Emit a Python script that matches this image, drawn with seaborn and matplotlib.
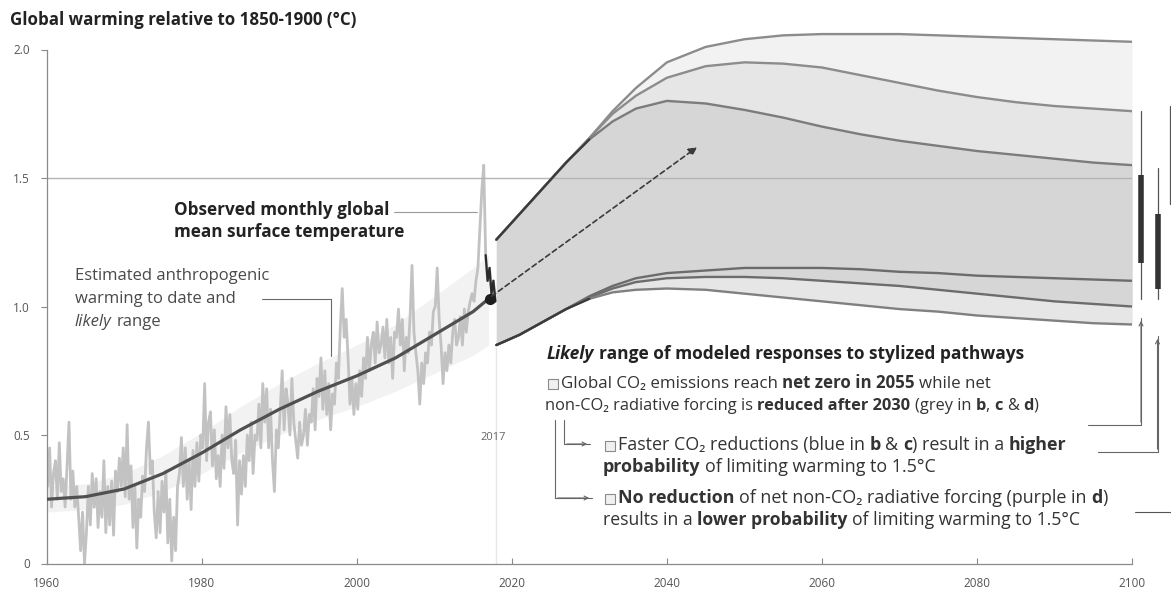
import numpy as np
import pandas as pd
import matplotlib
matplotlib.use("Agg")
import matplotlib.pyplot as plt
import seaborn as sns
from matplotlib.patches import Rectangle, FancyArrowPatch
from matplotlib.lines import Line2D

# ---------------- data ----------------
obs_first_year = 1960
# observed monthly GMST, sampled four times a year (°C rel. 1850-1900)
obs_quarterly = [
    0.30, 0.45, 0.22, 0.35,  0.40, 0.25, 0.47, 0.28,  0.33, 0.22, 0.38, 0.55,
    0.25, 0.36, 0.22, 0.30,  0.18, 0.05, 0.20, 0.00,  0.12, 0.30, 0.15, 0.35,
    0.22, 0.33, 0.14, 0.28,  0.18, 0.40, 0.12, 0.30,  0.15, 0.32, 0.11, 0.36,
    0.28, 0.41, 0.30, 0.45,  0.26, 0.54, 0.25, 0.38,  0.14, 0.30, 0.06, 0.25,
    0.18, 0.34, 0.28, 0.45,  0.55, 0.35, 0.40, 0.20,  0.10, 0.28, 0.12, 0.32,
    0.20, 0.36, 0.08, 0.25,  0.01, 0.18, 0.05, 0.30,  0.35, 0.49, 0.30, 0.45,
    0.25, 0.40, 0.21, 0.44,  0.30, 0.47, 0.32, 0.50,  0.45, 0.70, 0.40, 0.55,
    0.59, 0.38, 0.52, 0.33,  0.42, 0.30, 0.50, 0.37,  0.61, 0.45, 0.58, 0.40,
    0.35, 0.48, 0.15, 0.40,  0.27, 0.42, 0.30, 0.50,  0.40, 0.55, 0.35, 0.50,
    0.48, 0.62, 0.45, 0.70,  0.55, 0.68, 0.45, 0.60,  0.40, 0.28, 0.52, 0.45,
    0.60, 0.75, 0.52, 0.68,  0.62, 0.50, 0.72, 0.55,  0.48, 0.41, 0.55, 0.46,
    0.50, 0.60, 0.46, 0.58,  0.55, 0.68, 0.52, 0.72,  0.65, 0.80, 0.60, 0.75,
    0.58, 0.70, 0.52, 0.66,  0.62, 0.78, 0.72, 0.92,  1.07, 0.88, 0.95, 0.80,
    0.62, 0.72, 0.58, 0.70,  0.60, 0.75, 0.65, 0.80,  0.72, 0.88, 0.75, 0.85,
    0.90, 0.78, 0.94, 0.82,  0.85, 0.92, 0.80, 0.95,  0.78, 0.88, 0.72, 0.90,
    0.88, 0.99, 0.85, 0.95,  0.75, 0.88, 0.82, 0.96,  1.16, 0.90, 0.82, 0.75,
    0.62, 0.78, 0.70, 0.82,  0.78, 0.90, 0.85, 0.98,  1.00, 1.15, 0.95, 0.85,
    0.70, 0.82, 0.75, 0.85,  0.78, 0.90, 0.95, 0.85,  0.88, 0.96, 0.85, 0.99,
    0.90, 0.98, 1.02, 1.05,  1.02, 1.10, 1.15, 1.30,  1.45, 1.55, 1.20, 1.10,
    1.15, 1.05, 1.10, 1.02,
]

# estimated anthropogenic warming and likely range
anthro_years = [1960, 1965, 1970, 1975, 1980, 1985, 1990, 1995, 2000, 2005, 2010, 2015, 2017]
anthro_mid = [0.25, 0.26, 0.29, 0.35, 0.43, 0.52, 0.60, 0.67, 0.73, 0.80, 0.89, 0.98, 1.03]
anthro_low = [0.20, 0.21, 0.23, 0.28, 0.35, 0.43, 0.50, 0.56, 0.61, 0.67, 0.74, 0.81, 0.85]
anthro_high = [0.30, 0.31, 0.35, 0.42, 0.51, 0.61, 0.70, 0.78, 0.85, 0.93, 1.04, 1.15, 1.20]

# modelled pathway responses
proj_years = [2018, 2021, 2024, 2027, 2030, 2033, 2036, 2040, 2045, 2050,
              2055, 2060, 2065, 2070, 2075, 2080, 2085, 2090, 2095, 2100]
upper_a = [1.26, 1.36, 1.46, 1.56, 1.655, 1.76, 1.85, 1.95, 2.01, 2.04,
           2.055, 2.06, 2.06, 2.06, 2.055, 2.05, 2.045, 2.04, 2.035, 2.03]
upper_b = [1.26, 1.36, 1.46, 1.56, 1.655, 1.75, 1.82, 1.89, 1.935, 1.95,
           1.945, 1.93, 1.90, 1.87, 1.84, 1.815, 1.795, 1.78, 1.77, 1.76]
upper_c = [1.26, 1.36, 1.46, 1.56, 1.65, 1.72, 1.77, 1.80, 1.79, 1.765,
           1.735, 1.70, 1.67, 1.645, 1.625, 1.605, 1.59, 1.575, 1.56, 1.55]
lower_a = [0.85, 0.89, 0.94, 0.99, 1.04, 1.08, 1.11, 1.13, 1.14, 1.15,
           1.15, 1.15, 1.145, 1.135, 1.13, 1.12, 1.115, 1.11, 1.105, 1.10]
lower_b = [0.85, 0.89, 0.94, 0.99, 1.035, 1.07, 1.095, 1.11, 1.115, 1.115,
           1.11, 1.10, 1.09, 1.08, 1.065, 1.05, 1.035, 1.02, 1.01, 1.00]
lower_c = [0.85, 0.89, 0.94, 0.99, 1.03, 1.055, 1.065, 1.07, 1.065, 1.05,
           1.035, 1.02, 1.005, 0.99, 0.98, 0.965, 0.955, 0.945, 0.935, 0.93]

# 2100 range bars (thin = full, thick = central)
bar_thin_low = [1.03, 1.03, 1.40]
bar_thin_high = [1.76, 1.54, 1.78]
bar_thick_low = [1.17, 1.07]
bar_thick_high = [1.51, 1.36]

x_ticks = [1960, 1980, 2000, 2020, 2040, 2060, 2080, 2100]
y_ticks = [0, 0.5, 1.0, 1.5, 2.0]
y_tick_labels = ["0", "0.5", "1.0", "1.5", "2.0"]

# ---------------- figure ----------------
sns.set_theme(style="ticks")
FAM = ["Open Sans", "DejaVu Sans"]
plt.rcParams["font.family"] = FAM

W, H = 1171, 595
fig = plt.figure(figsize=(W / 100, H / 100), dpi=100)
fig.patch.set_facecolor("white")

x0_px, x1_px = 46.7, 1132.0
y0_px, unit_px = 563.5, 257.0
ymax = 2.1
ax = fig.add_axes([x0_px / W, (H - y0_px) / H, (x1_px - x0_px) / W, ymax * unit_px / H])
ax.set_facecolor("white")
ax.set_xlim(1960, 2100)
ax.set_ylim(0, ymax)

# 1.5 reference line
ax.axhline(1.5, color="#b4b4b4", lw=1.0, zorder=2.5)

# faint 2017 marker
ax.plot([2017.9, 2017.9], [0, 0.84], color="#e8e8e8", lw=1.0, zorder=1)

# observed data
t_obs = obs_first_year + np.arange(len(obs_quarterly)) / 4 + 0.125
obs_df = pd.DataFrame({"year": t_obs, "temp": obs_quarterly})
sns.lineplot(data=obs_df, x="year", y="temp", ax=ax, color="#c2c2c2", lw=2.0,
             estimator=None, sort=False, zorder=2)
recent = obs_df[obs_df["year"] > 2016.6]
sns.lineplot(data=recent, x="year", y="temp", ax=ax, color="#2a2a2a", lw=1.6,
             estimator=None, sort=False, zorder=4)

# anthropogenic warming
ax.fill_between(anthro_years, anthro_low, anthro_high, color="#e6e6e6", alpha=0.5, lw=0, zorder=1.5)
sns.lineplot(x=anthro_years, y=anthro_mid, ax=ax, color="#505050", lw=2.3,
             estimator=None, sort=False, zorder=5)
ax.plot([2017.2], [1.03], "o", color="#1e1e1e", ms=7, zorder=6)

# projection plumes
ax.fill_between(proj_years, lower_c, upper_a, color="#f2f2f2", lw=0, zorder=1.2)
ax.fill_between(proj_years, lower_c, upper_b, color="#e6e6e6", lw=0, zorder=1.3)
ax.fill_between(proj_years, lower_b, upper_c, color="#d6d6d6", lw=0, zorder=1.4)
for curve, col in [(upper_a, "#8c8c8c"), (upper_b, "#8c8c8c"), (upper_c, "#7c7c7c"),
                   (lower_a, "#6c6c6c"), (lower_b, "#6c6c6c"), (lower_c, "#808080")]:
    sns.lineplot(x=proj_years, y=curve, ax=ax, color=col, lw=1.7,
                 estimator=None, sort=False, zorder=3)
# darker start edges of the plume
ax.plot(proj_years[:5], upper_c[:5], color="#3a3a3a", lw=1.6, zorder=3.5)
ax.plot(proj_years[:5], lower_c[:5], color="#3a3a3a", lw=1.6, zorder=3.5)

# dashed arrow
ax.annotate("", xy=(2043.9, 1.62), xytext=(2017.4, 1.04),
            arrowprops=dict(arrowstyle="-|>", color="#3a3a3a", lw=1.2,
                            linestyle=(0, (3, 2)), mutation_scale=12,
                            shrinkA=0, shrinkB=0), zorder=6)

# range bars right of 2100
bar_x = [2101.2, 2103.3, 2104.9]
for i, bx in enumerate(bar_x):
    ax.plot([bx, bx], [bar_thin_low[i], bar_thin_high[i]], color="#555555", lw=0.9,
            clip_on=False, zorder=5)
for i in range(len(bar_thick_low)):
    ax.plot([bar_x[i], bar_x[i]], [bar_thick_low[i], bar_thick_high[i]], color="#333333",
            lw=4.0, solid_capstyle="butt", clip_on=False, zorder=5)

# axes styling
sns.despine(ax=ax)
ax.spines["left"].set_bounds(0, 2.0)
ax.spines["bottom"].set_bounds(1960, 2100)
for s in ("left", "bottom"):
    ax.spines[s].set_color("#8a8a8a")
    ax.spines[s].set_linewidth(0.9)
ax.set_xticks(x_ticks)
ax.set_xticklabels([str(v) for v in x_ticks])
ax.set_yticks(y_ticks)
ax.set_yticklabels(y_tick_labels)
ax.tick_params(axis="y", length=4, width=0.8, color="#8a8a8a", labelsize=8.5,
               labelcolor="#555555", pad=8)
ax.tick_params(axis="x", direction="in", length=4, width=0.8, color="#8a8a8a",
               labelsize=8.5, labelcolor="#555555", pad=10)
ax.set_xlabel("")
ax.set_ylabel("")
ax.grid(False)

ax.text(2017.6, 0.49, "2017", ha="center", va="center", fontsize=8, color="#666666")

# ---------------- annotations in pixel space ----------------
renderer = fig.canvas.get_renderer()


def fx(px):
    return px / W


def fy(py):
    return 1 - py / H


def measure(s, **kw):
    t = fig.text(0, 0, s, **kw)
    w = t.get_window_extent(renderer=renderer).width
    t.remove()
    return w


def rich(px, py, parts, fs=12, color="#333333"):
    x = px
    for item in parts:
        if item[0] == "box":
            size = 10
            fig.patches.append(Rectangle((fx(x), fy(py + 1)), size / W, size / H,
                                         transform=fig.transFigure, facecolor="#f0f0f0",
                                         edgecolor="#8a8a8a", lw=0.8))
            x += size + 3
            continue
        txt, style = item
        kw = dict(fontsize=fs, family=FAM,
                  fontweight="bold" if "b" in style else "normal",
                  fontstyle="italic" if "i" in style else "normal")
        sp = measure("a a", **kw) - measure("aa", **kw)
        core = txt.strip()
        lead = len(txt) - len(txt.lstrip())
        trail = len(txt) - len(txt.rstrip())
        x += lead * sp
        if core:
            t = fig.text(fx(x), fy(py), core, color=color, ha="left", va="baseline", **kw)
            x += t.get_window_extent(renderer=renderer).width
        x += trail * sp
    return x


def pline(pts, color="#777777", lw=0.8, arrow=False):
    xs = [fx(p[0]) for p in pts]
    ys = [fy(p[1]) for p in pts]
    fig.add_artist(Line2D(xs, ys, color=color, lw=lw, transform=fig.transFigure))
    if arrow:
        a, b = pts[-2], pts[-1]
        fig.add_artist(FancyArrowPatch(
            (fx(a[0]), fy(a[1])), (fx(b[0]), fy(b[1])), transform=fig.transFigure,
            arrowstyle="->", mutation_scale=7, color=color, lw=lw))


# title
rich(10, 25, [("Global warming relative to 1850-1900 (°C)", "b")], fs=12.2, color="#222222")

# observed label
rich(174, 215, [("Observed monthly global", "b")], fs=12.3, color="#222222")
rich(174, 237, [("mean surface temperature", "b")], fs=12.3, color="#222222")
pline([(394, 212), (477, 212)], color="#9a9a9a")

# anthropogenic label
rich(75, 280, [("Estimated anthropogenic", "")], fs=12, color="#4a4a4a")
rich(75, 303, [("warming to date and", "")], fs=12, color="#4a4a4a")
rich(75, 326, [("likely", "i"), (" range", "")], fs=12, color="#4a4a4a")
pline([(262, 299), (331, 299), (331, 356)], color="#6a6a6a")

# pathway legend
rich(547, 359, [("Likely", "bi"), (" range of modeled responses to stylized pathways", "b")],
     fs=12.5, color="#222222")
rich(548, 388, [("box",), ("Global CO₂ emissions reach ", ""), ("net zero in 2055", "b"),
                (" while net", "")], fs=12.2)
rich(545, 410, [("non-CO₂ radiative forcing is ", ""), ("reduced after 2030", "b"),
                (" (grey in ", ""), ("b", "b"), (", ", ""), ("c", "b"), (" & ", ""),
                ("d", "b"), (")", "")], fs=11.8)
rich(605, 450, [("box",), ("Faster CO₂ reductions (blue in ", ""), ("b", "b"), (" & ", ""),
                ("c", "b"), (") result in a ", ""), ("higher", "b")], fs=12.9)
rich(603, 472, [("probability", "b"), (" of limiting warming to 1.5°C", "")], fs=12.9)
rich(605, 503, [("box",), ("No reduction", "b"), (" of net non-CO₂ radiative forcing (purple in ", ""),
                ("d", "b"), (")", "")], fs=12.9)
rich(603, 525, [("results in a ", ""), ("lower probability", "b"),
                (" of limiting warming to 1.5°C", "")], fs=12.7)

# connectors
pline([(555, 420), (555, 498), (592, 498)], color="#666666", arrow=True)
pline([(564, 420), (564, 444), (590, 444)], color="#666666", arrow=True)
pline([(1088, 425), (1141, 425), (1141, 318)], color="#666666", arrow=True)
pline([(1098, 452), (1157.5, 452), (1157.5, 336)], color="#666666", arrow=True)
pline([(1135, 512), (1171, 512)], color="#555555")

fig.savefig("out.png", dpi=100, facecolor="white")
